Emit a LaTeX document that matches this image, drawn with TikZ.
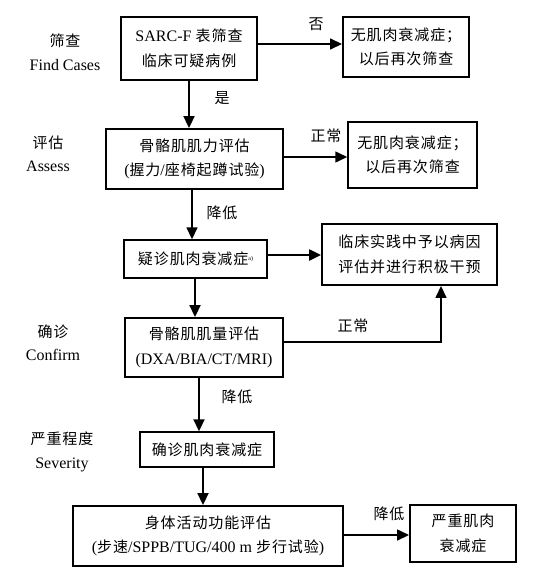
\documentclass[tikz,border=0pt]{standalone}
\usepackage{fontspec}
\setmainfont{Liberation Serif}
\newfontfamily\cjkfont[LetterSpace=6]{Noto Sans CJK SC}
\newfontfamily\latfont{Liberation Serif}
\newcommand\lt[1]{{\latfont\fontsize{16}{18}\selectfont #1}}
\usetikzlibrary{arrows.meta}
\begin{document}
\begin{tikzpicture}[x=1pt,y=-1pt,
  box/.style={draw,line width=1.9pt,inner sep=0pt,align=center,
    font=\cjkfont\fontsize{15}{24.5}\selectfont},
  thinbox/.style={box,line width=1.4pt},
  arr/.style={line width=1.5pt,-{Triangle[length=12pt,width=11pt]}},
  lab/.style={inner sep=0pt,font=\cjkfont\fontsize{15}{17}\selectfont},
  side/.style={inner sep=0pt,align=center,font=\cjkfont\fontsize{15}{23.5}\selectfont}]
\useasboundingbox (0,0) rectangle (550,573);
% boxes
\node[box,minimum width=136pt,minimum height=63pt] (b1) at (189,48.5) {\lt{SARC-F} 表筛查\\临床可疑病例};
\node[box,minimum width=126pt,minimum height=60pt] (na) at (406,47) {无肌肉衰减症；\\以后再次筛查};
\node[box,minimum width=177pt,minimum height=60pt] (b2) at (194.5,159) {骨骼肌肌力评估\\\lt{(}握力\lt{/}座椅起蹲试验\lt{)}};
\node[box,line width=1.5pt,minimum width=129pt,minimum height=66pt] (nb) at (412.5,155) {无肌肉衰减症；\\以后再次筛查};
\node[thinbox,minimum width=143pt,minimum height=38pt] (b3) at (195.5,259) {疑诊肌肉衰减症\raisebox{4pt}{\latfont\fontsize{6}{6}\selectfont a)}};
\node[box,minimum width=175pt,minimum height=61pt] (b4) at (409.5,254.5) {临床实践中予以病因\\评估并进行积极干预};
\node[box,minimum width=158pt,minimum height=59pt] (b5) at (204,347.5) {骨骼肌肌量评估\\\lt{(DXA/BIA/CT/MRI)}};
\node[thinbox,minimum width=134pt,minimum height=35pt] (b6) at (207,449.5) {确诊肌肉衰减症};
\node[box,minimum width=270pt,minimum height=60pt] (b7) at (208,536) {身体活动功能评估\\\lt{(}步速\lt{/SPPB/TUG/400 m }步行试验\lt{)}};
\node[box,minimum width=106pt,minimum height=57pt] (b8) at (463,533.5) {严重肌肉\\衰减症};
% side labels
\node[side] (s1) at (65,52) {筛查\\\lt{Find Cases}};
\node[side] (s2) at (48,154) {评估\\\lt{Assess}};
\node[side] (s3) at (53,343) {确诊\\\lt{Confirm}};
\node[side] (s4) at (62,452) {严重程度\\\lt{Severity}};
% connectors
\draw[arr] (b1.east |- 0,44) -- (na.west |- 0,44);
\draw[arr,line width=2pt] (b1.south) -- (b1.south |- b2.north);
\draw[arr] (b2.east |- 0,157) -- (nb.west |- 0,157);
\draw[arr] (b2.south -| 192,0) -- (b3.north -| 192,0);
\draw[arr,line width=2.3pt] (b3.east |- 0,255) -- (b4.west |- 0,255);
\draw[arr,line width=1.9pt] (b3.south -| 195,0) -- (b5.north -| 195,0);
\coordinate (c1) at (441,342);
\draw[arr] (b5.east |- c1) -- (c1) -- (c1 |- b4.south);
\draw[arr,line width=1.9pt] (b5.south -| 199,0) -- (b6.north -| 199,0);
\draw[arr,line width=1.9pt] (b6.south -| 203,0) -- (b7.north -| 203,0);
\draw[arr] (b7.east |- 0,535) -- (b8.west |- 0,535);
% connector labels
\node[lab] (l1) at (316,24) {否};
\node[lab] (l2) at (222,98) {是};
\node[lab] (l3) at (326,136) {正常};
\node[lab] (l4) at (222,213) {降低};
\node[lab] (l5) at (353,326) {正常};
\node[lab] (l6) at (237,397) {降低};
\node[lab] (l7) at (389,514) {降低};
\end{tikzpicture}
\end{document}
